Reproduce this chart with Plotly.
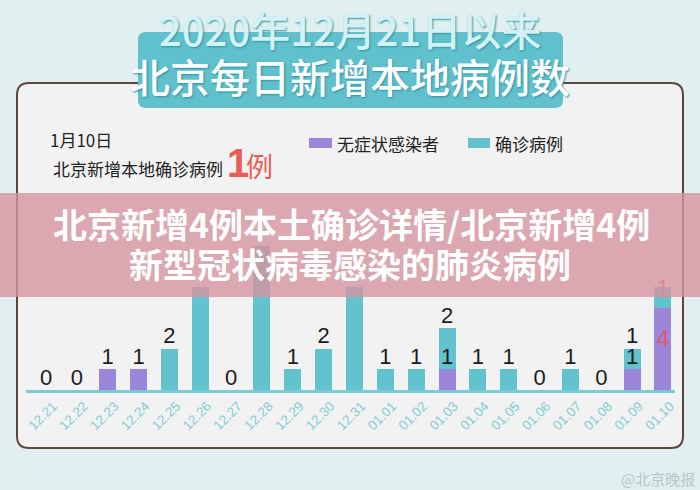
import plotly.graph_objects as go

# ---------------- data ----------------
dates = ["12.21", "12.22", "12.23", "12.24", "12.25", "12.26", "12.27", "12.28",
         "12.29", "12.30", "12.31", "01.01", "01.02", "01.03", "01.04", "01.05",
         "01.06", "01.07", "01.08", "01.09", "01.10"]
asymptomatic = [0, 0, 1, 1, 0, 0, 0, 0, 0, 0, 0, 0, 0, 1, 0, 0, 0, 0, 0, 1, 4]
confirmed = [0, 0, 0, 0, 2, 5, 0, 7, 1, 2, 5, 1, 1, 2, 1, 1, 0, 1, 0, 1, 1]

series_names = ["无症状感染者", "确诊病例"]
title_line1 = "2020年12月21日以来"
title_line2 = "北京每日新增本地病例数"
sub_date = "1月10日"
sub_text = "北京新增本地确诊病例"
sub_num = "1"
sub_unit = "例"
banner_line1 = "北京新增4例本土确诊详情/北京新增4例"
banner_line2 = "新型冠状病毒感染的肺炎病例"
watermark = "@北京晚报"

# ---------------- styles ----------------
PURPLE = "#9b86da"
CYAN = "#62c3cf"
BG = "#e1eff1"
CARD = "#f2f2f2"
CJK = "Noto Sans CJK SC"
LAT = "Liberation Sans, Arial"

W, H = 700, 490
L, R, T, B = 26, 675, 205, 390  # plot area in px
HIDDEN_ABOVE = 4  # labels of taller bars sit under the banner in the original


def X(px):
    return (px - L) / (R - L)


def Y(py):
    return (B - py) / (B - T)


def rrect(x0, y0, x1, y1, r):
    return (f"M {X(x0 + r)},{Y(y0)} L {X(x1 - r)},{Y(y0)} "
            f"Q {X(x1)},{Y(y0)} {X(x1)},{Y(y0 + r)} L {X(x1)},{Y(y1 - r)} "
            f"Q {X(x1)},{Y(y1)} {X(x1 - r)},{Y(y1)} L {X(x0 + r)},{Y(y1)} "
            f"Q {X(x0)},{Y(y1)} {X(x0)},{Y(y1 - r)} L {X(x0)},{Y(y0 + r)} "
            f"Q {X(x0)},{Y(y0)} {X(x0 + r)},{Y(y0)} Z")


n = len(dates)
last = n - 1
totals = [a + c for a, c in zip(asymptomatic, confirmed)]

fig = go.Figure()
fig.add_trace(go.Bar(x=dates, y=asymptomatic, name=series_names[0],
                     marker=dict(color=PURPLE, line=dict(width=0)), width=0.55))
fig.add_trace(go.Bar(x=dates, y=confirmed, name=series_names[1],
                     marker=dict(color=CYAN, line=dict(width=0)), width=0.55))

# top labels (all but the highlighted last day)
top_x, top_y, top_t = [], [], []
in_x, in_y, in_t = [], [], []
for i in range(last):
    if totals[i] <= HIDDEN_ABOVE:
        top_x.append(dates[i])
        top_y.append(totals[i])
        top_t.append(str(confirmed[i] if confirmed[i] > 0 else asymptomatic[i]))
    if confirmed[i] > 0 and asymptomatic[i] > 0:
        in_x.append(dates[i])
        in_y.append(asymptomatic[i])
        in_t.append(str(asymptomatic[i]))

fig.add_trace(go.Scatter(x=top_x, y=top_y, text=top_t, mode="text",
                         textposition="top center", cliponaxis=False,
                         textfont=dict(family=LAT, size=22, color="#1c1c1c"),
                         hoverinfo="skip"))
fig.add_trace(go.Scatter(x=in_x, y=in_y, text=in_t, mode="text",
                         textposition="top center", cliponaxis=False,
                         textfont=dict(family=LAT, size=22, color="#1c1c1c"),
                         hoverinfo="skip"))
# highlighted last day labels (red, inside segments)
fig.add_trace(go.Scatter(
    x=[dates[last], dates[last]],
    y=[asymptomatic[last] * 0.6, asymptomatic[last] + confirmed[last] * 0.8],
    text=[str(asymptomatic[last]), str(confirmed[last])], mode="text",
    textposition="middle center", cliponaxis=False,
    textfont=dict(family=LAT, size=24, color="rgba(232,85,85,0.85)"),
    hoverinfo="skip"))

shapes = [
    # card
    dict(type="path", xref="paper", yref="paper", path=rrect(17, 83, 683, 448, 12),
         fillcolor=CARD, line=dict(color="#5b473b", width=2), layer="below"),
    # title box
    dict(type="path", xref="paper", yref="paper", path=rrect(138, 32, 563, 108, 8),
         fillcolor="#60c0cc", line=dict(width=0), layer="below"),
    # legend swatches
    dict(type="rect", xref="paper", yref="paper", x0=X(309), x1=X(332), y0=Y(148), y1=Y(138),
         fillcolor=PURPLE, line=dict(width=0), layer="below"),
    dict(type="rect", xref="paper", yref="paper", x0=X(468), x1=X(490), y0=Y(148), y1=Y(138),
         fillcolor=CYAN, line=dict(width=0), layer="below"),
    # banner
    dict(type="rect", xref="paper", yref="paper", x0=X(0), x1=X(700), y0=Y(297), y1=Y(193),
         fillcolor="rgba(213,147,159,0.8)", line=dict(width=0), layer="above"),
]

anns = [
    dict(text=title_line1, x=X(350), y=Y(29), font=dict(family=CJK, size=40, color="#d4f2f5",
         weight=500, shadow="1px 1px 2px #2a93a1"), xanchor="center", yanchor="middle"),
    dict(text=title_line2, x=X(350), y=Y(76), font=dict(family=CJK, size=40, color="#ffffff",
         weight=500, shadow="1px 1px 2px #2a93a1"), xanchor="center", yanchor="middle"),
    dict(text=sub_date, x=X(48), y=Y(139), font=dict(family=CJK, size=17, color="#222"),
         xanchor="left", yanchor="middle"),
    dict(text=sub_text, x=X(51), y=Y(168), font=dict(family=CJK, size=17, color="#222"),
         xanchor="left", yanchor="middle"),
    dict(text="<b>" + sub_num + "</b>", x=X(225), y=Y(163), font=dict(family=LAT, size=40, color="#e85d55"),
         xanchor="left", yanchor="middle"),
    dict(text=sub_unit, x=X(244), y=Y(165), font=dict(family=CJK, size=27, color="#e85d55"),
         xanchor="left", yanchor="middle"),
    dict(text=series_names[0], x=X(335), y=Y(143), font=dict(family=CJK, size=17, color="#222"),
         xanchor="left", yanchor="middle"),
    dict(text=series_names[1], x=X(493), y=Y(143), font=dict(family=CJK, size=17, color="#222"),
         xanchor="left", yanchor="middle"),
    dict(text="<b>" + banner_line1 + "</b>", x=X(351), y=Y(223),
         font=dict(family=CJK, size=34, color="#ffffff"), xanchor="center", yanchor="middle"),
    dict(text="<b>" + banner_line2 + "</b>", x=X(350), y=Y(263),
         font=dict(family=CJK, size=34, color="#ffffff"), xanchor="center", yanchor="middle"),
    dict(text=watermark, x=X(697), y=Y(478), font=dict(family=CJK, size=15, color="rgba(150,160,165,0.55)"),
         xanchor="right", yanchor="middle"),
]
for a in anns:
    a.update(xref="paper", yref="paper", showarrow=False)

fig.update_layout(
    width=W, height=H,
    margin=dict(l=L, r=W - R, t=T, b=H - B, pad=0),
    paper_bgcolor=BG, plot_bgcolor="rgba(0,0,0,0)",
    barmode="stack", bargap=0.45, showlegend=False,
    shapes=shapes, annotations=anns,
    xaxis=dict(type="category", range=[-0.65, 20.39], showgrid=False, zeroline=False,
               showline=True, linecolor="#7ccad4", linewidth=3, ticks="",
               tickangle=-45, tickfont=dict(family=LAT, size=13.5, color="#84ccd6"),
               ticklabelshift=7, fixedrange=True),
    yaxis=dict(range=[0, 9], visible=False, fixedrange=True),
)

fig.write_html("out.html")
